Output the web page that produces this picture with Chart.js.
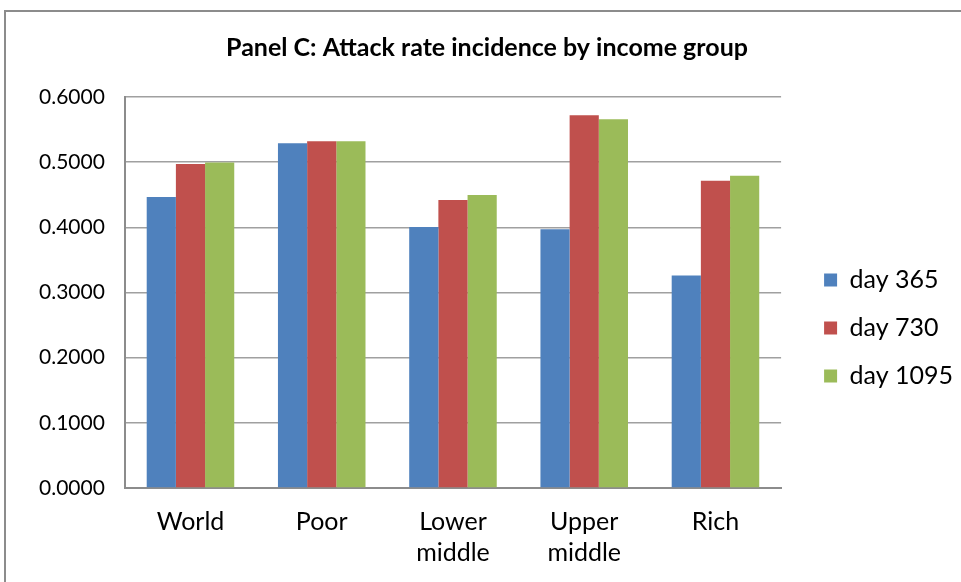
<!DOCTYPE html>
<html>
<head>
<meta charset="utf-8">
<script src="https://cdn.jsdelivr.net/npm/chart.js@4.4.1/dist/chart.umd.min.js"></script>
<style>
  body { margin: 0; background: #fff; }
  #wrap { position: relative; width: 961px; height: 582px; overflow: hidden; }
  #frame { position: absolute; left: 4px; top: 10px; width: 1200px; height: 900px;
           border-left: 2px solid #8c8c8c; border-top: 2px solid #8c8c8c; }
  canvas { position: absolute; left: 0; top: 0; }
</style>
</head>
<body>
<div id="wrap">
  <div id="frame"></div>
  <canvas id="grafic" width="961" height="582"></canvas>
</div>
<script>
// dados
const categorias = ['World', 'Poor', ['Lower', 'middle'], ['Upper', 'middle'], 'Rich']
const dia365 = [0.4465, 0.529, 0.4005, 0.397, 0.326]
const dia730 = [0.497, 0.532, 0.442, 0.572, 0.4715]
const dia1095 = [0.4995, 0.532, 0.4495, 0.566, 0.479]
const ticksY = [0, 0.1, 0.2, 0.3, 0.4, 0.5, 0.6]

Chart.defaults.font.family = 'Lato, sans-serif'
Chart.defaults.color = '#000'

// empurra legenda e titulo para a posicao do original
const ajusteLegenda = {
    id: 'ajusteLegenda',
    afterLayout(chart) {
        const l = chart.legend
        l.left += 20; l.right += 20
        l.top += 32; l.bottom += 32
        const t = chart.titleBlock
        t.left += 6; t.right += 6
    }
}

const data = {
    labels: categorias,
    datasets: [
        { label: 'day 365', data: dia365, backgroundColor: '#4f81bd' },
        { label: 'day 730', data: dia730, backgroundColor: '#c0504d' },
        { label: 'day 1095', data: dia1095, backgroundColor: '#9bbb59' }
    ]
}

const config = {
    type: 'bar',
    data: data,
    plugins: [ajusteLegenda],
    options: {
        responsive: false,
        animation: false,
        layout: { padding: { left: 19, top: 10, right: 18, bottom: 0 } },
        datasets: { bar: { categoryPercentage: 0.667, barPercentage: 1 } },
        plugins: {
            title: {
                display: true,
                text: 'Panel C: Attack rate incidence by income group',
                font: { size: 25, weight: 'bold', lineHeight: 1.2 },
                color: '#000',
                padding: { top: 23, bottom: 34 }
            },
            legend: {
                position: 'right',
                labels: {
                    boxWidth: 13, boxHeight: 13,
                    padding: 23,
                    font: { size: 25 }
                }
            },
            tooltip: { enabled: false }
        },
        scales: {
            x: {
                afterFit: (s) => { s.height = 94 },
                grid: { display: false, drawTicks: false },
                border: { color: '#8c8c8c', width: 2 },
                ticks: { font: { size: 25, lineHeight: 1.24 }, padding: 18, maxRotation: 0 }
            },
            y: {
                min: 0, max: 0.6,
                afterBuildTicks: (axis) => { axis.ticks = ticksY.map(v => ({ value: v })) },
                grid: { color: '#a0a0a0', lineWidth: 1.5, drawTicks: false },
                border: { color: '#8c8c8c', width: 2 },
                ticks: {
                    font: { size: 21 },
                    padding: 20,
                    callback: (v) => Number(v).toFixed(4)
                }
            }
        }
    }
}

const grafic = new Chart(document.getElementById('grafic').getContext('2d'), config)
</script>
</body>
</html>
